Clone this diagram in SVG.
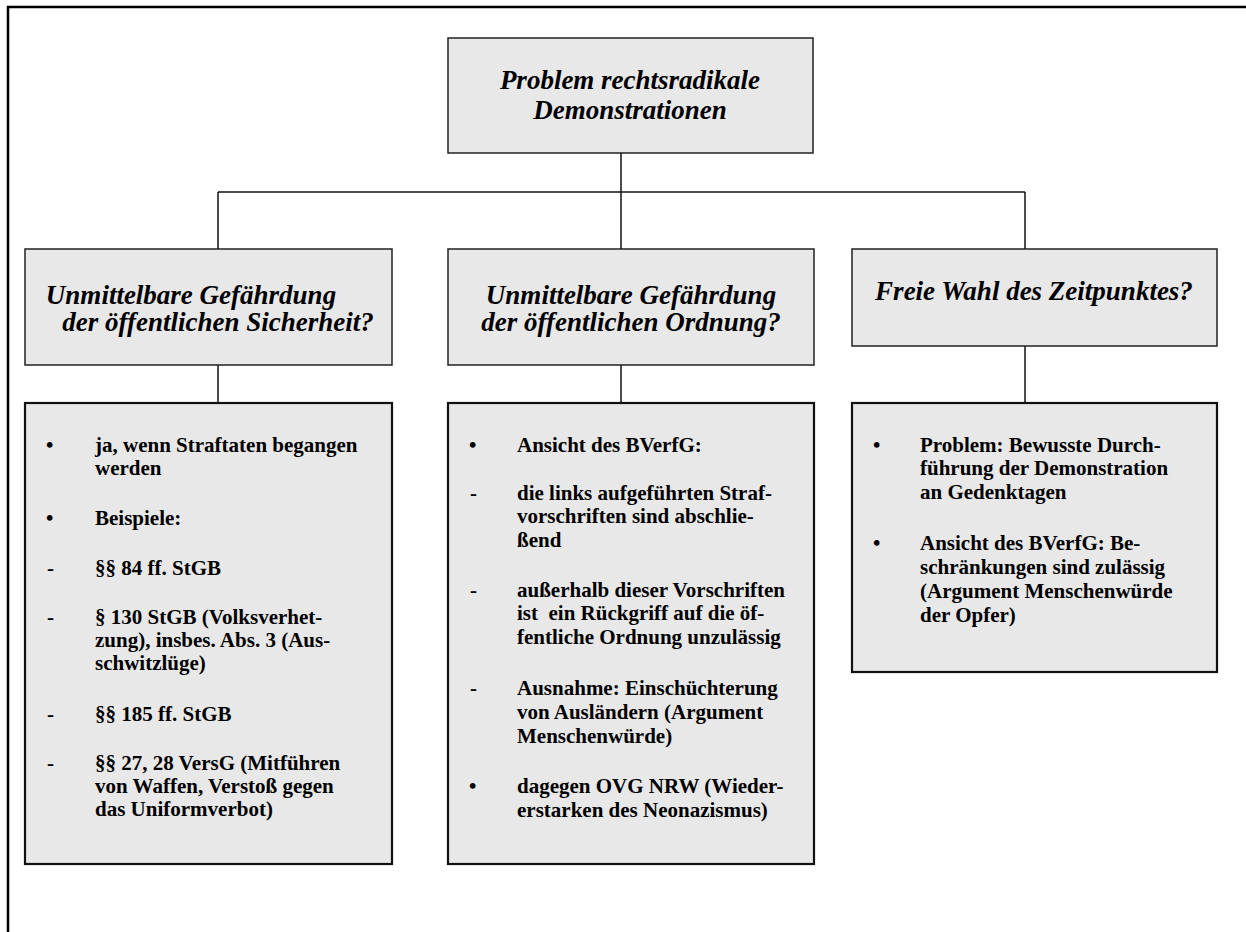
<svg xmlns="http://www.w3.org/2000/svg" width="1246" height="932" viewBox="0 0 1246 932">
<style>
.bg{fill:#ffffff}
.frame{stroke:#000;stroke-width:2.5;fill:none}
.head{fill:#e8e8e8;stroke:#222;stroke-width:1.5}
.body{fill:#e8e8e8;stroke:#111;stroke-width:2.2}
.conn{stroke:#111;stroke-width:1.5;fill:none}
.ti{font-family:"Liberation Serif","Times New Roman",serif;font-style:italic;font-weight:bold;font-size:27px;fill:#000;text-anchor:middle}
.tb{font-family:"Liberation Serif","Times New Roman",serif;font-weight:bold;font-size:21px;fill:#000}
</style>
<rect class="bg" x="0" y="0" width="1246" height="932"/>
<path class="frame" d="M8,932 V7 H1246"/>
<g id="connectors">
<path class="conn" d="M621,153 V192"/>
<path class="conn" d="M218,192 H1025"/>
<path class="conn" d="M218,192 V249"/>
<path class="conn" d="M621,192 V249"/>
<path class="conn" d="M1025,192 V249"/>
<path class="conn" d="M218,365 V403"/>
<path class="conn" d="M621,365 V403"/>
<path class="conn" d="M1025,346 V403"/>
</g>
<g id="root">
<rect class="head" x="448" y="38" width="365" height="115"/>
<text class="ti" x="630" y="89">Problem rechtsradikale</text>
<text class="ti" x="630" y="119">Demonstrationen</text>
</g>
<g id="sicherheit">
<rect class="head" x="25" y="249" width="367" height="116"/>
<text class="ti" x="191" y="304">Unmittelbare Gefährdung</text>
<text class="ti" x="218" y="331">der öffentlichen Sicherheit?</text>
</g>
<g id="ordnung">
<rect class="head" x="448" y="249" width="366" height="116"/>
<text class="ti" x="631" y="304">Unmittelbare Gefährdung</text>
<text class="ti" x="631" y="331">der öffentlichen Ordnung?</text>
</g>
<g id="zeitpunkt">
<rect class="head" x="852" y="249" width="365" height="97"/>
<text class="ti" x="1034" y="300">Freie Wahl des Zeitpunktes?</text>
</g>
<g id="detail-sicherheit">
<rect class="body" x="25" y="403" width="367" height="461"/>
<text class="tb" x="46" y="452">•</text>
<text class="tb" x="95" y="452">ja, wenn Straftaten begangen</text>
<text class="tb" x="95" y="475">werden</text>
<text class="tb" x="46" y="525">•</text>
<text class="tb" x="95" y="525">Beispiele:</text>
<text class="tb" x="47" y="575">-</text>
<text class="tb" x="95" y="575">§§ 84 ff. StGB</text>
<text class="tb" x="47" y="624">-</text>
<text class="tb" x="95" y="624">§ 130 StGB (Volksverhet-</text>
<text class="tb" x="95" y="647">zung), insbes. Abs. 3 (Aus-</text>
<text class="tb" x="95" y="670">schwitzlüge)</text>
<text class="tb" x="47" y="721">-</text>
<text class="tb" x="95" y="721">§§ 185 ff. StGB</text>
<text class="tb" x="47" y="770">-</text>
<text class="tb" x="95" y="770">§§ 27, 28 VersG (Mitführen</text>
<text class="tb" x="95" y="793">von Waffen, Verstoß gegen</text>
<text class="tb" x="95" y="816">das Uniformverbot)</text>
</g>
<g id="detail-ordnung">
<rect class="body" x="448" y="403" width="366" height="461"/>
<text class="tb" x="469" y="452">•</text>
<text class="tb" x="517" y="452">Ansicht des BVerfG:</text>
<text class="tb" x="470" y="500">-</text>
<text class="tb" x="517" y="500">die links aufgeführten Straf-</text>
<text class="tb" x="517" y="523">vorschriften sind abschlie-</text>
<text class="tb" x="517" y="547">ßend</text>
<text class="tb" x="470" y="597">-</text>
<text class="tb" x="517" y="597">außerhalb dieser Vorschriften</text>
<text class="tb" x="517" y="620" xml:space="preserve">ist  ein Rückgriff auf die öf-</text>
<text class="tb" x="517" y="644">fentliche Ordnung unzulässig</text>
<text class="tb" x="470" y="695">-</text>
<text class="tb" x="517" y="695">Ausnahme: Einschüchterung</text>
<text class="tb" x="517" y="719">von Ausländern (Argument</text>
<text class="tb" x="517" y="743">Menschenwürde)</text>
<text class="tb" x="469" y="793">•</text>
<text class="tb" x="517" y="793">dagegen OVG NRW (Wieder-</text>
<text class="tb" x="517" y="817">erstarken des Neonazismus)</text>
</g>
<g id="detail-zeitpunkt">
<rect class="body" x="852" y="403" width="365" height="269"/>
<text class="tb" x="873" y="452">•</text>
<text class="tb" x="920" y="452">Problem: Bewusste Durch-</text>
<text class="tb" x="920" y="475">führung der Demonstration</text>
<text class="tb" x="920" y="499">an Gedenktagen</text>
<text class="tb" x="873" y="550">•</text>
<text class="tb" x="920" y="550">Ansicht des BVerfG: Be-</text>
<text class="tb" x="920" y="574">schränkungen sind zulässig</text>
<text class="tb" x="920" y="598">(Argument Menschenwürde</text>
<text class="tb" x="920" y="622">der Opfer)</text>
</g>
</svg>
